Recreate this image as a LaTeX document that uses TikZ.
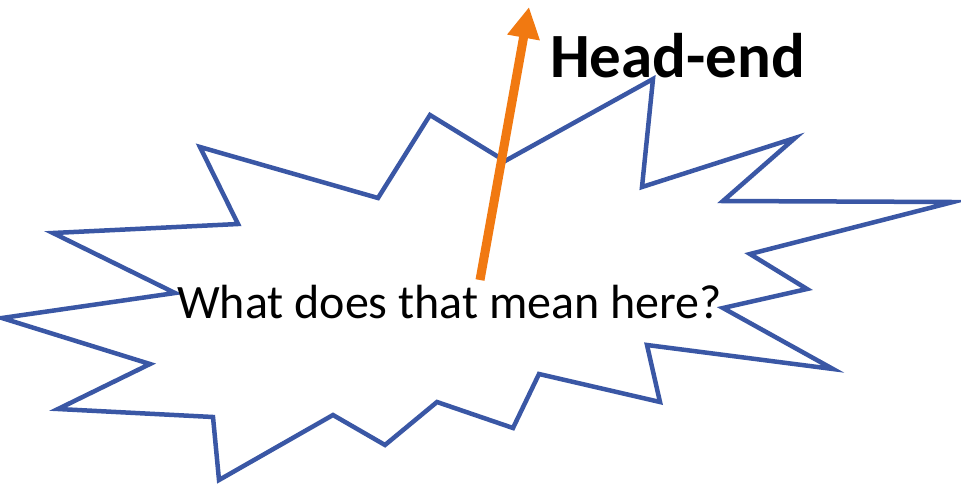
\documentclass[tikz,border=0pt]{standalone}
\usepackage{fontspec}
\setmainfont{Carlito}
\usepackage{xcolor}
\definecolor{burstblue}{RGB}{58, 87, 165}
\definecolor{arroworange}{RGB}{241, 121, 17}
\usepackage{tikz}
\usetikzlibrary{arrows.meta, positioning}

\begin{document}
\begin{tikzpicture}[x=1pt, y=-1pt, >=Stealth]
    \useasboundingbox (0,0) rectangle (961,483);
    \draw[line width=4.5pt, burstblue, fill=white, line join=miter]
        (430,115) -- (505,161) -- (653,79) -- (642,187) -- (795,138) -- (723,201)
        -- (953,202) -- (750,254) -- (807,289) -- (723,308) -- (833,369) -- (647,345)
        -- (660,402) -- (539,374) -- (513,428) -- (437,402) -- (385,445) -- (333,415)
        -- (219,480) -- (213,417) -- (58,409) -- (150,364) -- (2,318) -- (175,293)
        -- (53,233) -- (238,224) -- (200,147) -- (378,198) -- cycle;
    \node[anchor=base west, inner sep=0pt, font=\fontsize{48}{56}\selectfont] (question) at (177,318) {What does that mean here?};
    \coordinate (tail) at (480,280);
    \coordinate (tip) at (529,7);
    \draw[line width=9pt, arroworange, -{Triangle[length=31pt, width=31pt]}] (tail) -- (tip);
    \node[anchor=base west, inner sep=0pt, font=\fontsize{63}{72}\selectfont\bfseries] (headend) at (550,77) {Head-end};
\end{tikzpicture}
\end{document}
